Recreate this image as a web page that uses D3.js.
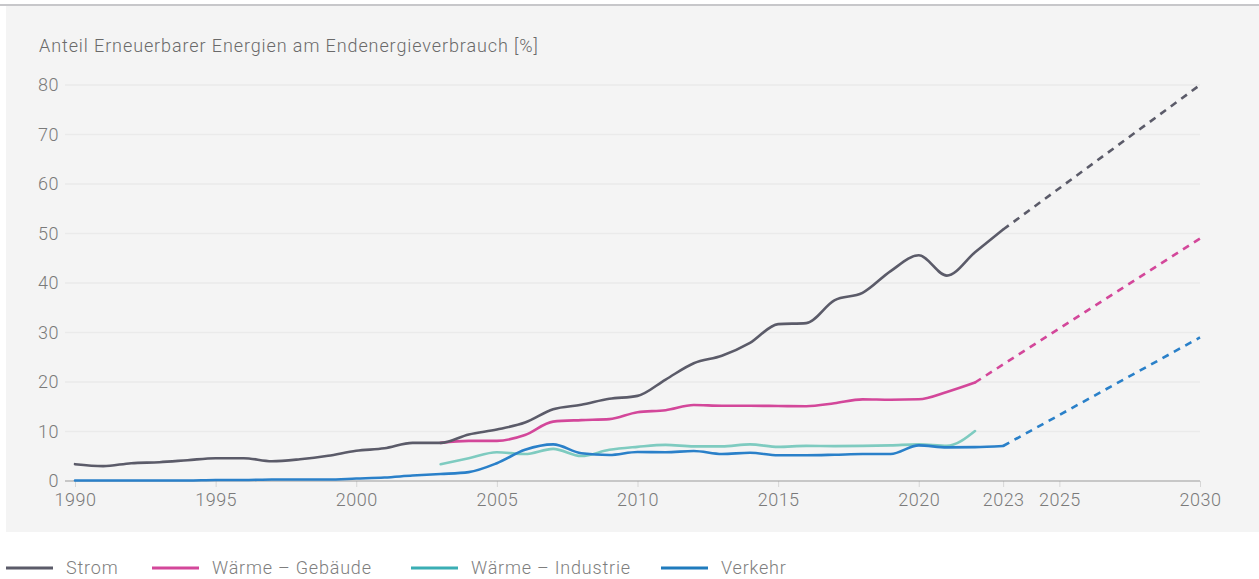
<!DOCTYPE html>
<html>
<head>
<meta charset="utf-8">
<script src="https://cdn.jsdelivr.net/npm/d3@7"></script>
<style>
  html, body { margin: 0; padding: 0; background: #ffffff; }
  svg { display: block; font-family: Roboto, "Open Sans", sans-serif; }
</style>
</head>
<body>
<svg id="chart" width="1259" height="579"></svg>
<script>
// ---------- data ----------
const years = [1990,1991,1992,1993,1994,1995,1996,1997,1998,1999,2000,2001,2002,2003,2004,2005,2006,2007,2008,2009,2010,2011,2012,2013,2014,2015,2016,2017,2018,2019,2020,2021,2022,2023];
const strom = [3.4,3.0,3.6,3.8,4.2,4.6,4.6,4.0,4.4,5.1,6.1,6.6,7.7,7.7,9.4,10.4,11.8,14.5,15.4,16.6,17.2,20.5,23.8,25.3,27.9,31.7,31.9,36.5,38.0,42.4,45.6,41.5,46.2,50.8];
const verkehr = [0.1,0.1,0.1,0.1,0.1,0.2,0.2,0.3,0.3,0.3,0.5,0.7,1.1,1.4,1.8,3.6,6.3,7.4,5.6,5.25,5.85,5.8,6.05,5.45,5.7,5.2,5.2,5.3,5.45,5.45,7.2,6.8,6.85,7.07];
const waermeYears = [2003,2004,2005,2006,2007,2008,2009,2010,2011,2012,2013,2014,2015,2016,2017,2018,2019,2020,2021,2022];
const gebaeude = [7.7,8.1,8.1,9.3,12.0,12.3,12.5,13.9,14.3,15.35,15.2,15.2,15.15,15.1,15.7,16.5,16.4,16.5,18.0,19.9];
const industrie = [3.4,4.6,5.8,5.45,6.5,5.05,6.3,6.9,7.3,7.0,7.0,7.4,6.9,7.1,7.05,7.1,7.2,7.4,7.1,10.1];
// targets 2030 (dashed)
const stromTarget = [[2023, 50.8], [2030, 80]];
const gebaeudeTarget = [[2022, 19.9], [2030, 49]];
const verkehrTarget = [[2023, 7.07], [2030, 29]];

const yTicks = [0,10,20,30,40,50,60,70,80];
const xTicks = [1990,1995,2000,2005,2010,2015,2020,2023,2025,2030];
const seriesNames = ["Strom","Wärme – Gebäude","Wärme – Industrie","Verkehr"];
const title = "Anteil Erneuerbarer Energien am Endenergieverbrauch [%]";

// ---------- styles ----------
const colors = { strom: "#5b5b69", gebaeude: "#d3479a", industrie: "#7ecbc0", verkehr: "#2a80c9" };
const legendColors = ["#5b5b69", "#d3479a", "#3aaeb4", "#1f7bbd"];

const svg = d3.select("#chart");
const W = 1259, H = 579;

// background panel & top rule
svg.append("rect").attr("x", 6).attr("y", 6).attr("width", W - 6).attr("height", 526).attr("fill", "#f4f4f4");
svg.append("line").attr("x1", 0).attr("x2", W).attr("y1", 5).attr("y2", 5).attr("stroke", "#b4b4b8").attr("stroke-width", 1.5);

const x = d3.scaleLinear().domain([1990, 2030]).range([75, 1200]);
const y = d3.scaleLinear().domain([0, 80]).range([481, 85]);

// title
svg.append("text").attr("x", 39).attr("y", 52).attr("font-size", 18).attr("font-weight", 300)
  .attr("letter-spacing", "0.9px").attr("fill", "#6a6a6a").text(title);

// grid
svg.append("g").selectAll("line").data(yTicks.filter(d => d > 0)).join("line")
  .attr("x1", 65).attr("x2", 1200).attr("y1", d => y(d)).attr("y2", d => y(d))
  .attr("stroke", "#eaeaea").attr("stroke-width", 1.5);

// y axis labels
const yAxis = d3.axisLeft(y).tickValues(yTicks).tickSize(0).tickPadding(0).tickFormat(d3.format("d"));
const gy = svg.append("g").attr("transform", "translate(59,0)").call(yAxis);
gy.select(".domain").remove();
gy.selectAll("text").attr("font-size", 18).attr("font-weight", 300).attr("fill", "#7a7a7a")
  .attr("letter-spacing", "0.5px").attr("font-family", "Roboto, sans-serif");

// x axis
const xAxis = d3.axisBottom(x).tickValues(xTicks).tickSize(6).tickPadding(6).tickFormat(d3.format("d"));
const gx = svg.append("g").attr("transform", "translate(0,481)").call(xAxis);
gx.select(".domain").remove();
gx.selectAll(".tick line").attr("stroke", "#d6d6d6");
gx.selectAll("text").attr("font-size", 18).attr("font-weight", 300).attr("fill", "#7a7a7a")
  .attr("letter-spacing", "0.5px").attr("font-family", "Roboto, sans-serif").attr("dy", "0.71em");
svg.append("line").attr("x1", 65).attr("x2", 1200).attr("y1", 481).attr("y2", 481)
  .attr("stroke", "#9a9a9a").attr("stroke-width", 1.2);

// lines
const line = d3.line().x(d => x(d[0])).y(d => y(d[1])).curve(d3.curveMonotoneX);
const zip = (xs, vs) => xs.map((v, i) => [v, vs[i]]);

function drawSolid(data, color) {
  svg.append("path").datum(data).attr("d", line).attr("fill", "none")
    .attr("stroke", color).attr("stroke-width", 2.6).attr("stroke-linejoin", "round").attr("stroke-linecap", "round");
}
function drawDashed(data, color) {
  svg.append("path").datum(data).attr("d", d3.line().x(d => x(d[0])).y(d => y(d[1]))).attr("fill", "none")
    .attr("stroke", color).attr("stroke-width", 2.6).attr("stroke-dasharray", "7,6");
}

drawDashed(verkehrTarget, colors.verkehr);
drawDashed(gebaeudeTarget, colors.gebaeude);
drawDashed(stromTarget, colors.strom);

drawSolid(zip(waermeYears, industrie), colors.industrie);
drawSolid(zip(years, verkehr), colors.verkehr);
drawSolid(zip(waermeYears, gebaeude), colors.gebaeude);
drawSolid(zip(years, strom), colors.strom);

// legend
const legendX = [6, 152, 411, 661];
const lg = svg.append("g").selectAll("g").data(seriesNames).join("g")
  .attr("transform", (d, i) => `translate(${legendX[i]},568)`);
lg.append("line").attr("x1", 0).attr("x2", 47).attr("y1", 0).attr("y2", 0)
  .attr("stroke", (d, i) => legendColors[i]).attr("stroke-width", 3);
lg.append("text").attr("x", 60).attr("y", 0).attr("dy", "0.35em").attr("font-size", 18).attr("font-weight", 300)
  .attr("letter-spacing", "0.8px").attr("fill", "#7e7e7e").text(d => d);
</script>
</body>
</html>
